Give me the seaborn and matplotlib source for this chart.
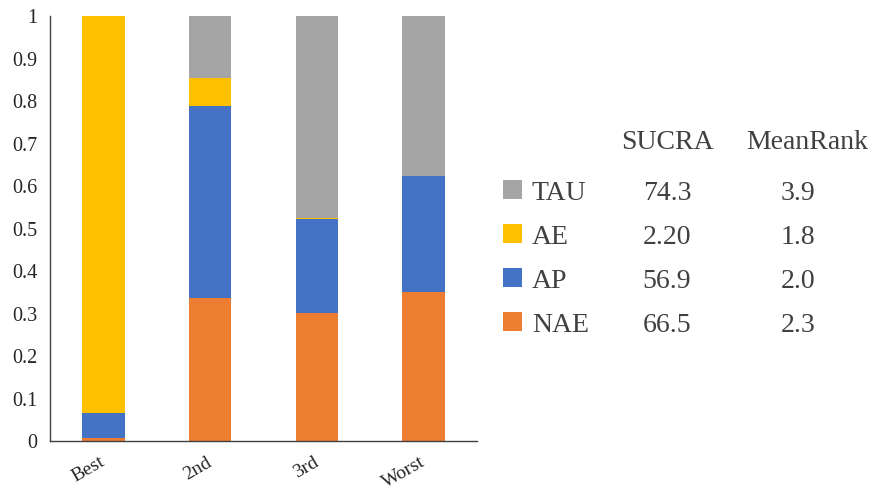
import matplotlib
matplotlib.use("Agg")
import matplotlib.pyplot as plt
import matplotlib.transforms as mtransforms
import seaborn as sns
import numpy as np
from matplotlib.patches import Rectangle

# Rank probabilities for each treatment (stacked to 1 per rank)
categories = ["Best", "2nd", "3rd", "Worst"]
nae = [0.007, 0.336, 0.302, 0.350]
ap = [0.058, 0.452, 0.220, 0.274]
ae = [0.935, 0.066, 0.002, 0.000]
tau = [0.000, 0.146, 0.476, 0.376]

series_names = ["NAE", "AP", "AE", "TAU"]
series_colors = ["#ED7D31", "#4472C4", "#FFC000", "#A5A5A5"]

# Summary table
sucra = ["66.5", "56.9", "2.20", "74.3"]
mean_rank = ["2.3", "2.0", "1.8", "3.9"]

sns.set_theme(style="white")
plt.rcParams["font.family"] = ["Liberation Serif", "DejaVu Serif"]

W, H = 874, 494
TEXT = "#404040"
TICK = "#262626"
fig = plt.figure(figsize=(W / 100, H / 100), dpi=100)
ax = fig.add_axes([50 / W, 1 - 441 / H, 427 / W, 425 / H])

bottom = np.zeros(len(categories))
for vals, col in zip([nae, ap, ae, tau], series_colors):
    sns.barplot(x=categories, y=vals, bottom=bottom.copy(), color=col,
                width=0.4, saturation=1, linewidth=0, errorbar=None, ax=ax)
    bottom += np.array(vals)

ax.set_ylim(0, 1)
ax.set_xlim(-0.5, len(categories) - 0.5)
yt = np.round(np.arange(0, 1.01, 0.1), 1)
ax.set_yticks(yt)
ax.set_yticklabels([("1" if v == 1 else ("0" if v == 0 else f"{v:.1f}")) for v in yt],
                   fontsize=14.5, color=TICK)
ax.set_xticks(range(len(categories)))
ax.set_xticklabels(categories, fontsize=14, color=TICK, rotation=30,
                   ha="right", va="top", rotation_mode="anchor")
ax.tick_params(axis="y", length=0, pad=9)
ax.tick_params(axis="x", length=0, pad=9)
shift = mtransforms.ScaledTranslation(-4 / 100, 0, fig.dpi_scale_trans)
for lab in ax.get_xticklabels():
    lab.set_transform(lab.get_transform() + shift)
ax.set_xlabel("")
ax.set_ylabel("")
for side in ["top", "right"]:
    ax.spines[side].set_visible(False)
for side in ["left", "bottom"]:
    ax.spines[side].set_color(TEXT)
    ax.spines[side].set_linewidth(1.0)
ax.grid(False)


def fy(py):
    return 1 - py / H


# Table header
fig.text(667 / W, fy(149), "SUCRA", ha="center", va="baseline", fontsize=20, color=TEXT)
fig.text(807 / W, fy(149), "MeanRank", ha="center", va="baseline", fontsize=20, color=TEXT)

# Legend rows with SUCRA and mean rank values
baselines = [200, 244, 288, 332]
order = list(range(len(series_names)))[::-1]
for base, i in zip(baselines, order):
    fig.add_artist(Rectangle((503 / W, fy(base - 1)), 19 / W, 19 / H,
                             transform=fig.transFigure, color=series_colors[i], lw=0))
    fig.text(532 / W, fy(base), series_names[i], ha="left", va="baseline", fontsize=20, color=TEXT)
    fig.text(667 / W, fy(base), sucra[i], ha="center", va="baseline", fontsize=20, color=TEXT)
    fig.text(798 / W, fy(base), mean_rank[i], ha="center", va="baseline", fontsize=20, color=TEXT)

fig.savefig("out.png", dpi=100)
